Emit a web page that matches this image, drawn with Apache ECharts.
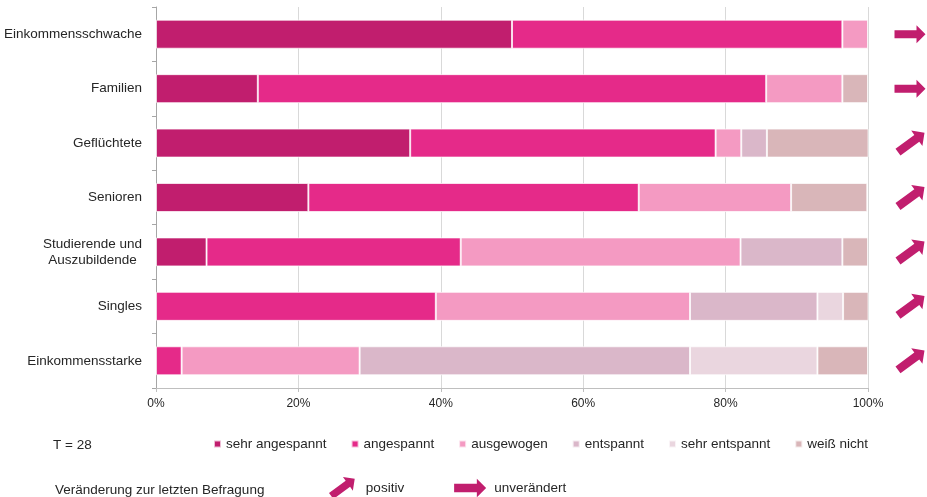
<!DOCTYPE html>
<html>
<head>
<meta charset="utf-8">
<script src="https://cdn.jsdelivr.net/npm/echarts@6/dist/echarts.min.js"></script>
<style>html,body{margin:0;padding:0;background:#fff}#c{width:927px;height:497px}</style>
</head>
<body>
<div id="c"></div>
<script>
const categories = ['Einkommensschwache','Familien','Geflüchtete','Senioren','Studierende und\nAuszubildende','Singles','Einkommensstarke'];
const seriesNames = ['sehr angespannt','angespannt','ausgewogen','entspannt','sehr entspannt','weiß nicht'];
const sehrAngespannt = [50.0, 14.3, 35.7, 21.4, 7.1, null, null];
const angespannt     = [46.4, 71.4, 42.9, 46.4, 35.7, 39.3, 3.6];
const ausgewogen     = [3.6, 10.7, 3.6, 21.4, 39.3, 35.7, 25.0];
const entspannt      = [null, null, 3.6, null, 14.3, 17.9, 46.4];
const sehrEntspannt  = [null, null, null, null, null, 3.6, 17.9];
const weissNicht     = [null, 3.6, 14.3, 10.7, 3.6, 3.6, 7.1];
const trend = ['unverändert','unverändert','positiv','positiv','positiv','positiv','positiv'];
const xTicks = [0, 20, 40, 60, 80, 100];

const colors = ['#C11E6E','#E52A89','#F49AC2','#DAB7C9','#EAD6DF','#D9B6B9'];
const arrowColor = '#C11E6E';
const rightArrow = 'path://M0,-4 L22,-4 L22,-9 L31,0 L22,9 L22,4 L0,4 Z';
const diagArrow = 'path://M-2.35,-3.24 L15.45,-16.17 L12.51,-20.22 L25.08,-18.23 L23.09,-5.66 L20.15,-9.70 L2.35,3.24 Z';
const font = 'Liberation Sans, Arial, sans-serif';
const txt = '#262626';
const fs = 13.5;

const values = [sehrAngespannt, angespannt, ausgewogen, entspannt, sehrEntspannt, weissNicht];
const barSeries = seriesNames.map((n, i) => ({
  name: n, type: 'bar', stack: 'total', data: values[i],
  barWidth: 29,
  itemStyle: { color: colors[i], borderColor: 'rgba(255,255,255,0.7)', borderWidth: 1 },
  emphasis: { disabled: true }
}));

const arrowSeries = [
  { name: 'positiv', type: 'scatter', xAxisIndex: 1, yAxisIndex: 1,
    symbol: diagArrow, symbolSize: [29, 25],
    data: categories.map((c, i) => trend[i] === 'positiv' ? [0.5, c] : null).filter(d => d),
    itemStyle: { color: arrowColor, opacity: 1 }, emphasis: { disabled: true }, clip: false },
  { name: 'unverändert', type: 'scatter', xAxisIndex: 1, yAxisIndex: 1,
    symbol: rightArrow, symbolSize: [31, 18],
    data: categories.map((c, i) => trend[i] === 'unverändert' ? [0.5, c] : null).filter(d => d),
    itemStyle: { color: arrowColor, opacity: 1 }, emphasis: { disabled: true }, clip: false }
];

const chart = echarts.init(document.getElementById('c'), null, { renderer: 'canvas' });
chart.setOption({
  animation: false,
  textStyle: { fontFamily: font },
  title: [
    { text: 'T = 28', left: 48, top: 433, textStyle: { fontSize: fs, fontWeight: 'normal', color: txt, fontFamily: font } },
    { text: 'Veränderung zur letzten Befragung', left: 50, top: 478, textStyle: { fontSize: fs, fontWeight: 'normal', color: txt, fontFamily: font } }
  ],
  legend: [
    { data: seriesNames, left: 208, top: 432, itemWidth: 7, itemHeight: 7, itemGap: 24, icon: 'rect',
      selectedMode: false, textStyle: { fontSize: fs, color: txt } },
    { data: [{ name: 'positiv', icon: diagArrow }, { name: 'unverändert', icon: rightArrow }],
      left: 324, top: 472, itemWidth: 32, itemHeight: 22, itemGap: 50, selectedMode: false,
      textStyle: { fontSize: fs, color: txt, padding: [0, 0, 0, 3] } }
  ],
  grid: [
    { left: 156, top: 7, width: 712, height: 381, containLabel: false },
    { left: 895, top: 7, width: 30, height: 381, containLabel: false }
  ],
  xAxis: [
    { type: 'value', gridIndex: 0, min: 0, max: 100, interval: 20,
      axisLabel: { formatter: v => xTicks.includes(v) ? v + '%' : '', fontSize: 12, color: txt, margin: 10 },
      axisLine: { show: true, lineStyle: { color: '#BFBFBF' } },
      axisTick: { show: true, length: 4, lineStyle: { color: '#BFBFBF' } },
      splitLine: { show: true, lineStyle: { color: '#D9D9D9', width: 1 } } },
    { type: 'value', gridIndex: 1, min: 0, max: 1, show: false }
  ],
  yAxis: [
    { type: 'category', gridIndex: 0, data: categories, inverse: true,
      axisLine: { show: true, lineStyle: { color: '#A6A6A6' } },
      axisTick: { show: true, length: 4, lineStyle: { color: '#A6A6A6' } },
      axisLabel: { fontSize: fs, color: txt, margin: 14, lineHeight: 16,
        formatter: v => v.includes('\n') ? v.split('\n').map(l => '{c|' + l + '}').join('\n') : v,
        rich: { c: { align: 'center', fontSize: fs, lineHeight: 16, color: txt, fontFamily: font } } } },
    { type: 'category', gridIndex: 1, data: categories, inverse: true, show: false }
  ],
  series: barSeries.concat(arrowSeries)
});
</script>
</body>
</html>
